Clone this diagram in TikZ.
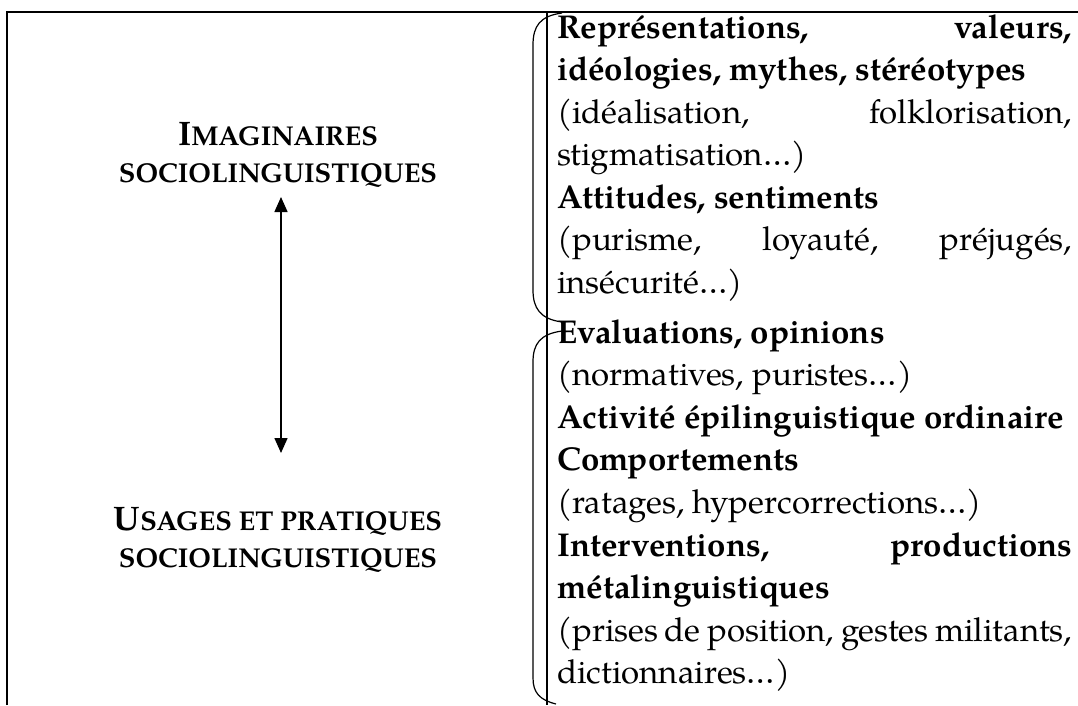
\documentclass[tikz,border=0pt]{standalone}
\usepackage{fontspec}
\setmainfont{TeX Gyre Pagella}
\usetikzlibrary{arrows.meta}
\newcommand{\bigc}[1]{{\fontsize{34}{38}\selectfont #1}}
\newcommand{\smc}[1]{{\fontsize{27.2}{32}\selectfont #1}}
\begin{document}
\begin{tikzpicture}[x=1pt,y=-1pt,
  frame/.style={line width=2.3pt},
  bracket/.style={line width=1.2pt},
  ln/.style={anchor=base west, inner sep=0pt, font=\fontsize{33}{38}\selectfont},
  lbl/.style={anchor=base, inner sep=0pt, font=\bfseries},
  dbl/.style={line width=1.5pt, {Triangle[width=13pt,length=15pt]}-{Triangle[width=13pt,length=15pt]}}]
\useasboundingbox (0,0) rectangle (1078,705);
% frame
\draw[frame] (7,705) -- (7,12) -- (1078,12);
\draw[frame] (547,12) -- (547,705);
% left labels
\node[lbl] (imag1) at (278,145) {\bigc{I}\smc{MAGINAIRES}};
\node[lbl] (imag2) at (278,182) {\smc{SOCIOLINGUISTIQUES}};
\node[lbl] (usag1) at (278,530) {\bigc{U}\smc{SAGES ET PRATIQUES}};
\node[lbl] (usag2) at (278,567) {\smc{SOCIOLINGUISTIQUES}};
\coordinate (atop) at (281,197);
\coordinate (abot) at (281,453);
\draw[dbl] (atop) -- (abot);
% brackets
\draw[bracket] (562,13) .. controls (540,16) and (533,26) .. (533,45) -- (533,290) .. controls (533,308) and (540,319) .. (562,322);
\draw[bracket] (562,331) .. controls (540,334) and (533,344) .. (533,362) -- (533,678) .. controls (533,693) and (540,700) .. (556,704);
% right column
\def\W{515pt}
\node[ln] (r1) at (557,38) {\makebox[\W][s]{\bfseries Représentations, valeurs,}};
\node[ln] (r2) at (557,80.5) {\bfseries idéologies, mythes, stéréotypes};
\node[ln] (r3) at (557,123) {\makebox[\W][s]{(idéalisation, folklorisation,}};
\node[ln] (r4) at (557,165.5) {stigmatisation…)};
\node[ln] (r5) at (557,208) {\bfseries Attitudes, sentiments};
\node[ln] (r6) at (557,250.5) {\makebox[\W][s]{(purisme, loyauté, préjugés,}};
\node[ln] (r7) at (557,293) {insécurité…)};
\node[ln] (r8) at (557,343) {\bfseries Evaluations, opinions};
\node[ln] (r9) at (557,385.6) {(normatives, puristes…)};
\node[ln] (r10) at (557,428.2) {\bfseries Activité épilinguistique ordinaire};
\node[ln] (r11) at (557,470.8) {\bfseries Comportements};
\node[ln] (r12) at (557,513.4) {(ratages, hypercorrections…)};
\node[ln] (r13) at (557,556) {\makebox[\W][s]{\bfseries Interventions, productions}};
\node[ln] (r14) at (557,598.6) {\bfseries métalinguistiques};
\node[ln] (r15) at (557,641.2) {\makebox[\W][s]{(prises de position, gestes militants,}};
\node[ln] (r16) at (557,683.8) {dictionnaires…)};
\end{tikzpicture}
\end{document}
